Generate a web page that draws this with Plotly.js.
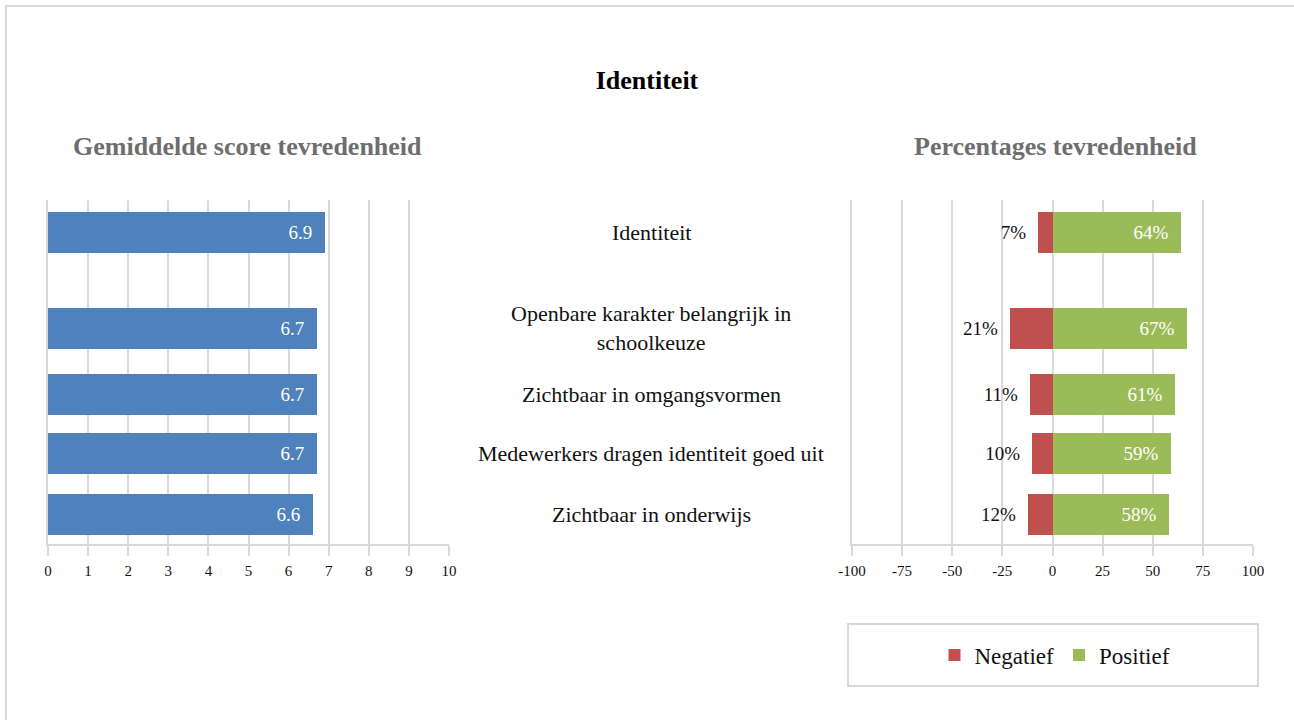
<!DOCTYPE html>
<html>
<head>
<meta charset="utf-8">
<script src="https://cdn.plot.ly/plotly-3.0.1.min.js"></script>
<style>html,body{margin:0;padding:0;background:#fff;}#chart{width:1294px;height:720px;}</style>
</head>
<body>
<div id="chart"></div>
<script>
// ---- data ----
const categories = [
  "Identiteit",
  "Openbare karakter belangrijk in<br>schoolkeuze",
  "Zichtbaar in omgangsvormen",
  "Medewerkers dragen identiteit goed uit",
  "Zichtbaar in onderwijs"
];
const meanScores = [6.9, 6.7, 6.7, 6.7, 6.6];
const negativePct = [7, 21, 11, 10, 12];
const positivePct = [64, 67, 61, 59, 58];
const scoreTicks = [0,1,2,3,4,5,6,7,8,9,10];
const pctTicks = [-100,-75,-50,-25,0,25,50,75,100];
const pctTickLabels = ["-100","-75","-50","-25","0","25","50","75","100"];
const seriesNames = ["Negatief", "Positief"];

// ---- layout helpers (row placement, not data) ----
const rowPos = [0, 1.6, 2.7, 3.683, 4.7];
const W = 1294, H = 720;
const px = v => v / W;
const py = v => 1 - v / H;
const serif = "Liberation Serif, Times New Roman, serif";
const grid = "#d9d9d9";
const nb = "\u00a0";

const traces = [
  {
    type: "bar", orientation: "h", x: meanScores, y: rowPos,
    xaxis: "x", yaxis: "y", width: 0.678,
    marker: {color: "#4f81bd"},
    text: meanScores.map(v => v.toFixed(1) + nb + nb),
    textposition: "inside", insidetextanchor: "end",
    textfont: {color: "#ffffff", size: 19, family: serif},
    showlegend: false, hoverinfo: "skip", cliponaxis: false
  },
  {
    type: "bar", orientation: "h", name: seriesNames[0],
    x: negativePct.map(v => -v), y: rowPos,
    xaxis: "x2", yaxis: "y2", width: 0.678,
    marker: {color: "#c0504d"},
    text: negativePct.map(v => v + "%" + nb + nb),
    textposition: "outside",
    textfont: {color: "#111111", size: 19, family: serif},
    hoverinfo: "skip", cliponaxis: false
  },
  {
    type: "bar", orientation: "h", name: seriesNames[1],
    x: positivePct, y: rowPos,
    xaxis: "x2", yaxis: "y2", width: 0.678,
    marker: {color: "#9bbb59"},
    text: positivePct.map(v => v + "%" + nb + nb),
    textposition: "inside", insidetextanchor: "end",
    textfont: {color: "#ffffff", size: 19, family: serif},
    hoverinfo: "skip", cliponaxis: false
  }
];

const yRange = [(544 - 232.3) / 60, (200 - 232.3) / 60];

const annotations = categories.map((c, i) => ({
  text: c, xref: "paper", yref: "y", x: px(651), y: rowPos[i],
  xanchor: "center", yanchor: "middle", showarrow: false, align: "center",
  font: {family: serif, size: 22, color: "#111111"}
}));
annotations.push(
  {text: "<b>Gemiddelde score tevredenheid</b>", xref: "paper", yref: "paper",
   x: px(247), y: py(147), xanchor: "center", yanchor: "middle", showarrow: false,
   font: {family: serif, size: 26, color: "#6e6e6e"}},
  {text: "<b>Percentages tevredenheid</b>", xref: "paper", yref: "paper",
   x: px(1055), y: py(147), xanchor: "center", yanchor: "middle", showarrow: false,
   font: {family: serif, size: 26, color: "#6e6e6e"}}
);

const axisCommon = {
  showgrid: true, gridcolor: grid, gridwidth: 2,
  showline: true, linecolor: grid, linewidth: 2,
  ticks: "outside", ticklen: 10, tickcolor: grid, tickwidth: 2,
  tickfont: {family: serif, size: 15, color: "#111111"},
  ticklabelstandoff: 2,
  fixedrange: true, zeroline: false
};

const layout = {
  width: W, height: H,
  margin: {l: 0, r: 0, t: 0, b: 0},
  paper_bgcolor: "#ffffff", plot_bgcolor: "#ffffff",
  font: {family: serif},
  title: {text: "<b>Identiteit</b>", x: 0.5, xanchor: "center", y: py(80), yanchor: "middle",
          font: {family: serif, size: 26, color: "#000000"}},
  barmode: "relative", bargap: 0,
  xaxis: Object.assign({}, axisCommon, {domain: [px(48), px(449)], range: [0, 10],
          tickmode: "array", tickvals: scoreTicks, anchor: "y"}),
  yaxis: {domain: [py(544), py(200)], range: yRange, showgrid: false, zeroline: false,
          showticklabels: false, showline: true, linecolor: grid, linewidth: 2,
          ticks: "", anchor: "x", fixedrange: true},
  xaxis2: Object.assign({}, axisCommon, {domain: [px(852), px(1253)], range: [-100, 100],
          tickmode: "array", tickvals: pctTicks, ticktext: pctTickLabels, anchor: "y2"}),
  yaxis2: {domain: [py(544), py(200)], range: yRange, showgrid: false, zeroline: false,
          showticklabels: false, showline: true, linecolor: grid, linewidth: 2,
          ticks: "", anchor: "x2", fixedrange: true},
  showlegend: true,
  legend: {orientation: "h", x: px(1055), xanchor: "center", y: py(655), yanchor: "middle",
           font: {family: serif, size: 23, color: "#111111"}, bgcolor: "rgba(0,0,0,0)",
           traceorder: "normal"},
  annotations: annotations,
  shapes: [
    {type: "rect", xref: "paper", yref: "paper", x0: px(6), x1: 1.02, y0: -0.02, y1: py(6),
     line: {color: grid, width: 2}, fillcolor: "rgba(0,0,0,0)", layer: "below"},
    {type: "rect", xref: "paper", yref: "paper", x0: px(848), x1: px(1258), y0: py(686), y1: py(624),
     line: {color: grid, width: 2}, fillcolor: "rgba(0,0,0,0)", layer: "below"}
  ]
};

Plotly.newPlot("chart", traces, layout, {staticPlot: true, displayModeBar: false});
</script>
</body>
</html>
